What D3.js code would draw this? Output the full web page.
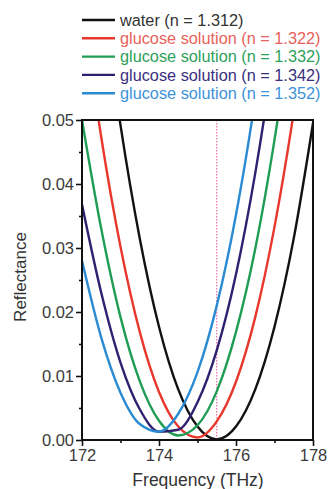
<!DOCTYPE html>
<html>
<head>
<meta charset="utf-8">
<script src="https://cdn.jsdelivr.net/npm/d3@7"></script>
<style>
  html, body { margin: 0; padding: 0; background: #fff; }
  svg text { font-family: "Liberation Sans", Arial, sans-serif; }
</style>
</head>
<body>
<div id="chart"></div>
<script>
// frequencies (THz) and reflectance
const freqs = [172, 172.5, 173, 173.5, 174, 174.5, 175, 175.5, 176, 176.5, 177, 177.5, 178];
const water = [0.0965, 0.0709, 0.0492, 0.0315, 0.0177, 0.0079, 0.0021, 0.0001, 0.0021, 0.0079, 0.0177, 0.0315, 0.0495];
const glucose1322 = [0.0684, 0.0473, 0.0302, 0.0169, 0.0075, 0.0021, 0.0004, 0.0029, 0.0091, 0.0192, 0.0333, 0.0512, 0.0726];
const glucose1332 = [0.0500, 0.0330, 0.0192, 0.0092, 0.0030, 0.0007, 0.0023, 0.0076, 0.0169, 0.0299, 0.0469, 0.0676, 0.0922];
const glucose1342 = [0.0368, 0.0230, 0.0121, 0.0048, 0.0013, 0.0016, 0.0059, 0.0140, 0.0259, 0.0417, 0.0613, 0.0847, 0.1100];
const glucose1352 = [0.0280, 0.0160, 0.0074, 0.0025, 0.0013, 0.0041, 0.0106, 0.0210, 0.0352, 0.0533, 0.0752, 0.1000, 0.1300];

const seriesNames = ['water (n = 1.312)', 'glucose solution (n = 1.322)', 'glucose solution (n = 1.332)',
  'glucose solution (n = 1.342)', 'glucose solution (n = 1.352)'];
const seriesValues = [water, glucose1322, glucose1332, glucose1342, glucose1352];
const lineColors = ['#111111', '#e8382e', '#1f9d55', '#2f2170', '#2b8bd2'];
const textColors = ['#333333', '#e8625a', '#2ea15c', '#3a2f7e', '#3d92d8'];

const xTicks = [172, 174, 176, 178];
const yTicks = [0, 0.01, 0.02, 0.03, 0.04, 0.05];
const markFreq = 175.5;

const width = 328, height = 489;
const svg = d3.select('#chart').append('svg')
  .attr('width', width)
  .attr('height', height);

const x = d3.scaleLinear().domain([172, 178]).range([82, 313]);
const y = d3.scaleLinear().domain([0, 0.05]).range([440, 120]);

svg.append('clipPath').attr('id', 'plot-clip')
  .append('rect')
    .attr('x', x(172)).attr('y', y(0.05))
    .attr('width', x(178) - x(172)).attr('height', y(0) - y(0.05));

// dotted marker line
svg.append('line')
  .attr('x1', x(markFreq)).attr('x2', x(markFreq))
  .attr('y1', y(0.05)).attr('y2', y(0))
  .attr('stroke', '#e8549a')
  .attr('stroke-width', 1)
  .attr('stroke-dasharray', '1.5,1.5');

const line = d3.line()
  .x((d, i) => x(freqs[i]))
  .y(d => y(d))
  .curve(d3.curveMonotoneX);

svg.append('g').attr('clip-path', 'url(#plot-clip)')
  .selectAll('path')
  .data(seriesValues)
  .enter().append('path')
    .attr('d', d => line(d))
    .attr('fill', 'none')
    .attr('stroke', (d, i) => lineColors[i])
    .attr('stroke-width', 2.4);

// axes
const xAxis = svg.append('g')
  .attr('transform', `translate(0,${y(0)})`)
  .call(d3.axisBottom(x).tickValues(xTicks).tickFormat(d3.format('d')).tickSize(6).tickPadding(3));
const xMinor = svg.append('g')
  .attr('transform', `translate(0,${y(0)})`)
  .call(d3.axisBottom(x).tickValues([173, 175, 177]).tickFormat('').tickSize(3));
const yAxis = svg.append('g')
  .attr('transform', `translate(${x(172)},0)`)
  .call(d3.axisLeft(y).tickValues(yTicks).tickFormat(d3.format('.2f')).tickSize(6).tickPadding(2));
const yMinor = svg.append('g')
  .attr('transform', `translate(${x(172)},0)`)
  .call(d3.axisLeft(y).tickValues([0.005, 0.015, 0.025, 0.035, 0.045]).tickFormat('').tickSize(3));

[xAxis, xMinor, yAxis, yMinor].forEach(g => {
  g.select('.domain').remove();
  g.selectAll('line').attr('stroke', '#111').attr('stroke-width', 1.6);
  g.selectAll('text').attr('font-size', 16.5).attr('fill', '#3a3a3a')
    .style('font-family', '"Liberation Sans", Arial, sans-serif');
});

// frame
svg.append('rect')
  .attr('x', x(172)).attr('y', y(0.05))
  .attr('width', x(178) - x(172)).attr('height', y(0) - y(0.05))
  .attr('fill', 'none')
  .attr('stroke', '#111')
  .attr('stroke-width', 2);

// axis titles
svg.append('text')
  .attr('transform', `translate(26,277) rotate(-90)`)
  .attr('text-anchor', 'middle')
  .attr('font-size', 17)
  .attr('fill', '#333')
  .text('Reflectance');

svg.append('text')
  .attr('x', 198).attr('y', 486)
  .attr('text-anchor', 'middle')
  .attr('font-size', 17.5)
  .attr('fill', '#333')
  .text('Frequency (THz)');

// legend
const legend = svg.append('g').selectAll('g')
  .data(seriesNames)
  .enter().append('g')
    .attr('transform', (d, i) => `translate(82,${20 + i * 18.3})`);
legend.append('line')
  .attr('x1', 0).attr('x2', 33)
  .attr('stroke', (d, i) => lineColors[i])
  .attr('stroke-width', 2.4);
legend.append('text')
  .attr('x', 38).attr('dy', '0.35em')
  .attr('font-size', 16.3)
  .attr('fill', (d, i) => textColors[i])
  .text(d => d);
</script>
</body>
</html>
